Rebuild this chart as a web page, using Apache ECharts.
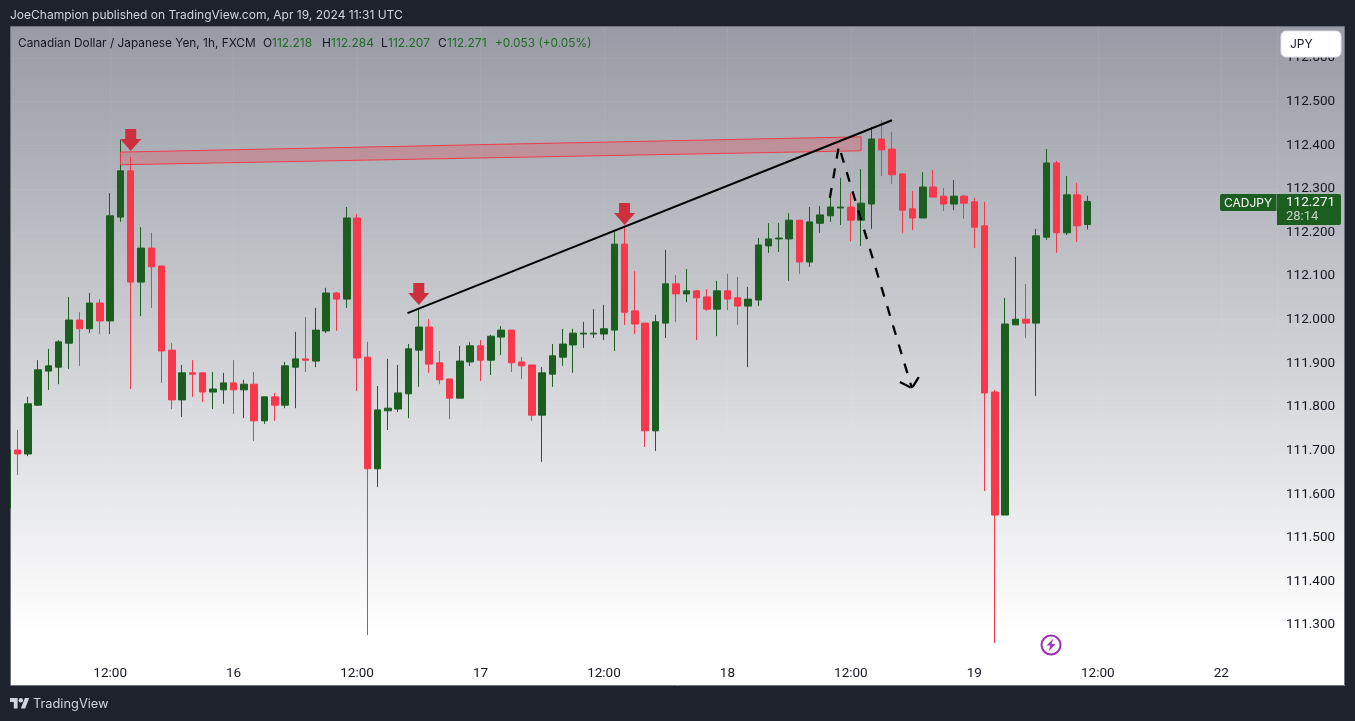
<!DOCTYPE html>
<html><head><meta charset="utf-8">
<style>html,body{margin:0;padding:0;background:#1e222d;overflow:hidden}#c{width:1355px;height:721px}</style>
<script src="https://cdn.jsdelivr.net/npm/echarts@6/dist/echarts.min.js"></script>
</head><body><div id="c"></div>
<script>
const firstHour = 2; // hours after Apr 15 00:00
const opens = [111.568,111.701,111.692,111.804,111.882,111.891,111.946,111.999,111.979,112.038,111.997,112.235,112.341,112.086,112.164,112.123,111.930,111.816,111.878,111.878,111.834,111.839,111.855,111.839,111.852,111.768,111.823,111.804,111.891,111.910,111.905,111.974,112.061,112.047,112.233,111.914,111.658,111.791,111.795,111.830,111.930,111.983,111.901,111.864,111.820,111.903,111.940,111.907,111.960,111.976,111.903,111.896,111.781,111.875,111.914,111.942,111.967,111.967,111.967,111.976,112.173,112.020,111.992,111.745,111.992,112.082,112.059,112.066,112.052,112.024,112.066,112.050,112.031,112.045,112.169,112.185,112.185,112.228,112.132,112.221,112.238,112.256,112.258,112.228,112.265,112.414,112.391,112.334,112.254,112.233,112.304,112.283,112.265,112.283,112.270,112.215,111.834,111.552,111.988,112.001,111.992,112.189,112.359,112.199,112.286,112.218];
const closes = [111.701,111.692,111.807,111.885,111.894,111.949,111.999,111.979,112.038,111.997,112.238,112.341,112.086,112.164,112.121,111.928,111.816,111.878,111.875,111.834,111.841,111.855,111.839,111.852,111.768,111.823,111.804,111.894,111.910,111.907,111.976,112.061,112.047,112.233,111.912,111.658,111.793,111.797,111.832,111.933,111.983,111.898,111.862,111.820,111.905,111.940,111.907,111.962,111.976,111.901,111.894,111.781,111.878,111.917,111.944,111.969,111.969,111.969,111.979,112.173,112.017,111.990,111.745,111.995,112.082,112.059,112.066,112.050,112.024,112.066,112.047,112.031,112.047,112.171,112.185,112.187,112.228,112.132,112.224,112.240,112.258,112.258,112.228,112.267,112.414,112.389,112.332,112.251,112.233,112.304,112.281,112.265,112.283,112.267,112.212,111.832,111.552,111.990,112.001,111.992,112.192,112.359,112.199,112.286,112.215,112.271];
const lows = [111.568,111.644,111.687,111.802,111.839,111.852,111.887,111.894,111.969,111.967,111.967,112.224,111.841,112.008,112.027,111.855,111.795,111.777,111.823,111.811,111.795,111.807,111.784,111.774,111.722,111.761,111.768,111.797,111.797,111.880,111.891,111.969,111.974,112.027,111.836,111.277,111.616,111.747,111.788,111.774,111.846,111.878,111.852,111.772,111.820,111.894,111.859,111.873,111.919,111.880,111.864,111.768,111.674,111.846,111.894,111.878,111.935,111.958,111.953,111.928,111.988,111.967,111.708,111.699,111.958,111.995,112.040,111.953,112.020,111.962,112.022,111.988,111.891,112.031,112.153,112.155,112.089,112.105,112.121,112.199,112.224,112.217,112.180,112.169,112.208,112.329,112.311,112.199,112.205,112.233,112.281,112.249,112.251,112.231,112.164,111.607,111.259,111.552,111.988,111.958,111.825,112.183,112.153,112.194,112.178,112.207];
const highs = [111.701,111.747,111.823,111.907,111.933,111.953,112.052,112.017,112.061,112.047,112.290,112.412,112.373,112.212,112.199,112.123,111.946,111.896,111.907,111.878,111.880,111.878,111.907,111.862,111.880,111.823,111.832,111.903,111.972,112.006,112.027,112.073,112.063,112.258,112.242,111.949,111.848,111.910,111.896,111.944,112.022,112.001,111.928,111.864,111.940,111.949,111.953,111.965,111.985,111.976,111.914,111.896,111.891,111.944,111.979,111.979,111.995,112.024,112.034,112.201,112.215,112.111,111.992,112.011,112.160,112.102,112.116,112.068,112.070,112.089,112.105,112.098,112.075,112.187,112.221,112.221,112.244,112.228,112.258,112.260,112.283,112.325,112.290,112.345,112.442,112.458,112.430,112.336,112.295,112.338,112.343,112.302,112.320,112.286,112.279,112.270,111.839,112.050,112.144,112.082,112.208,112.391,112.364,112.329,112.313,112.284];
const xTickLabels = ['', '12:00', '16', '12:00', '17', '12:00', '18', '12:00', '19', '12:00', '22'];
const hiddenYTicks = ['112.700', '111.200', '111.100'];
const zoneCorners = [[13, 112.384], [85, 112.419], [85, 112.387], [13, 112.355]];
const trendLine = [[40.9, 112.015], [88.0, 112.457]];
const forecastPath = [[81.96, 112.279], [82.83, 112.398], [89.93, 111.843]];
const forecastHead = [[88.76, 111.857], [89.93, 111.843], [90.6, 111.868]];
const signalArrows = [[14, 112.412], [42, 112.059], [62, 112.242]];
const headerText = 'JoeChampion published on TradingView.com, Apr 19, 2024 11:31 UTC';
const legendTitle = 'Canadian Dollar / Japanese Yen, 1h, FXCM';
const legendParts = [['O', 263], ['112.218', 272, 1], ['H', 322], ['112.284', 331, 1], ['L', 381], ['112.207', 388, 1], ['C', 438], ['112.271', 447, 1], ['+0.053 (+0.05%)', 495, 1]];

const FONT = 'Inter, "Noto Sans", sans-serif';
const DARK = '#1e222d', UP = '#1b5e20', DOWN = '#f7374a', TAG = '#1b5e20';
const rows = opens.map((o, i) => [firstHour + i, o, closes[i], lows[i], highs[i]]);
const chart = echarts.init(document.getElementById('c'), null, {renderer: 'canvas'});
const txt = (text, x, y, size, fill, family) => ({type: 'text', z: 12, silent: true, x, y,
  style: {text, fill, font: size + 'px ' + (family || FONT), verticalAlign: 'middle'}});
const cover = (x, y, width, height) => ({type: 'rect', z: 10, silent: true, shape: {x, y, width, height}, style: {fill: DARK}});
const poly = (points, fill) => ({type: 'polygon', z: 11, silent: true, shape: {points}, style: {fill}});

chart.setOption({
  animation: false,
  backgroundColor: DARK,
  grid: {left: -13.3, top: 14.25, width: 1290.3, height: 698, containLabel: false, outerBoundsMode: 'none'},
  xAxis: {
    type: 'value', min: 0, max: 125.42, interval: 12,
    axisLine: {show: false}, axisTick: {show: false},
    splitLine: {show: true, lineStyle: {color: 'rgba(255,255,255,0.06)', width: 1}},
    axisLabel: {inside: true, margin: 32, color: '#131722', fontFamily: 'Roboto', fontSize: 13.5,
      showMinLabel: true, showMaxLabel: false, hideOverlap: false,
      formatter: v => xTickLabels[Math.round(v / 12)] || ''}
  },
  yAxis: {
    type: 'value', position: 'right', min: 111.1, max: 112.7, interval: 0.1,
    axisLine: {show: true, lineStyle: {color: 'rgba(255,255,255,0.25)', width: 1}}, axisTick: {show: false},
    splitLine: {show: true, lineStyle: {color: 'rgba(255,255,255,0.06)', width: 1}},
    axisLabel: {margin: 9, padding: [6, 0, 0, 0], color: '#131722', fontFamily: 'Roboto', fontSize: 13.5,
      formatter: v => { const s = v.toFixed(3); return hiddenYTicks.includes(s) ? '' : s; }}
  },
  series: [
    {type: 'candlestick', data: rows, barWidth: 7, z: 3,
      itemStyle: {color: UP, color0: DOWN, borderColor: UP, borderColor0: DOWN, borderWidth: 1}},
    {type: 'custom', data: [zoneCorners[0]], z: 4, silent: true,
      renderItem: (p, api) => ({type: 'polygon', shape: {points: zoneCorners.map(c => api.coord(c))},
        style: {fill: 'rgba(242,54,69,0.25)', stroke: 'rgba(242,54,69,0.95)', lineWidth: 1}})},
    {type: 'line', data: trendLine, showSymbol: false, silent: true, z: 6, lineStyle: {color: '#000', width: 2}},
    {type: 'line', data: forecastPath, showSymbol: false, silent: true, z: 6, lineStyle: {color: '#000', width: 2.3, type: [10, 10]}},
    {type: 'line', data: forecastHead, showSymbol: false, silent: true, z: 6, lineStyle: {color: '#000', width: 2.3, type: [12, 3]}},
    {type: 'scatter', data: signalArrows, z: 7, silent: true, symbol: 'path://M5,0 L16,0 L16,10 L21,10 L10.5,22 L0,10 L5,10 Z',
      symbolSize: [21, 22], itemStyle: {color: '#cc2f3d', opacity: 1}}
  ],
  graphic: {elements: [
    {type: 'rect', z: -1, silent: true, shape: {x: 11, y: 27, width: 1334, height: 659},
      style: {fill: {type: 'linear', x: 0, y: 0, x2: 0, y2: 1, colorStops: [{offset: 0, color: '#989ba5'}, {offset: 0.92, color: '#ffffff'}, {offset: 1, color: '#ffffff'}]}}},
    {type: 'rect', z: 1, silent: true, shape: {x: 10.5, y: 26.5, width: 1334, height: 659}, style: {fill: 'none', stroke: '#70747f', lineWidth: 1}},
    cover(0, 0, 1355, 26), cover(0, 686, 1355, 35), cover(0, 0, 10, 721), cover(1345, 0, 10, 721),
    txt(headerText, 10, 15.5, 12, '#d1d4dc'),
    txt(legendTitle, 18, 43, 11.85, '#131722'),
    ...legendParts.map(p => txt(p[0], p[1], 43, p[0][0] === '+' ? 11.85 : 12, p[2] ? '#1f6b24' : '#131722')),
    {type: 'rect', z: 11, silent: true, shape: {x: 1281, y: 31, width: 60, height: 26, r: 5}, style: {fill: '#fff', stroke: '#e0e3eb', lineWidth: 1}},
    txt('JPY', 1290, 44.5, 12, '#131722'),
    {type: 'rect', z: 11, silent: true, shape: {x: 1220, y: 194, width: 56.5, height: 17, r: [2, 0, 0, 2]}, style: {fill: TAG}},
    {type: 'rect', z: 11, silent: true, shape: {x: 1277, y: 194, width: 64, height: 31, r: [0, 2, 2, 0]}, style: {fill: TAG}},
    txt('CADJPY', 1224, 203, 12, '#ffffff'),
    txt('112.271', 1286, 203, 13.5, '#ffffff', 'Roboto'),
    txt('28:14', 1286, 217, 13, '#c3d3c4', 'Roboto'),
    {type: 'circle', z: 11, silent: true, shape: {cx: 1051, cy: 645, r: 9.5}, style: {fill: 'none', stroke: '#9c2fb5', lineWidth: 2}},
    poly([[1053.5, 638.5], [1046.5, 645.5], [1050.5, 645.5], [1048.5, 651.5], [1055.5, 644], [1051.5, 644]], '#9c2fb5'),
    poly([[10, 698], [17.6, 698], [17.6, 708.5], [13.8, 708.5], [13.8, 702.1], [10, 702.1]], '#d1d4dc'),
    poly([[20.8, 708.5], [25.2, 708.5], [29.2, 698], [24.9, 698]], '#d1d4dc'),
    {type: 'circle', z: 11, silent: true, shape: {cx: 20.8, cy: 700.3, r: 2.2}, style: {fill: '#d1d4dc'}},
    txt('TradingView', 33, 704, 12.8, '#d1d4dc')
  ]}
});
</script></body></html>
